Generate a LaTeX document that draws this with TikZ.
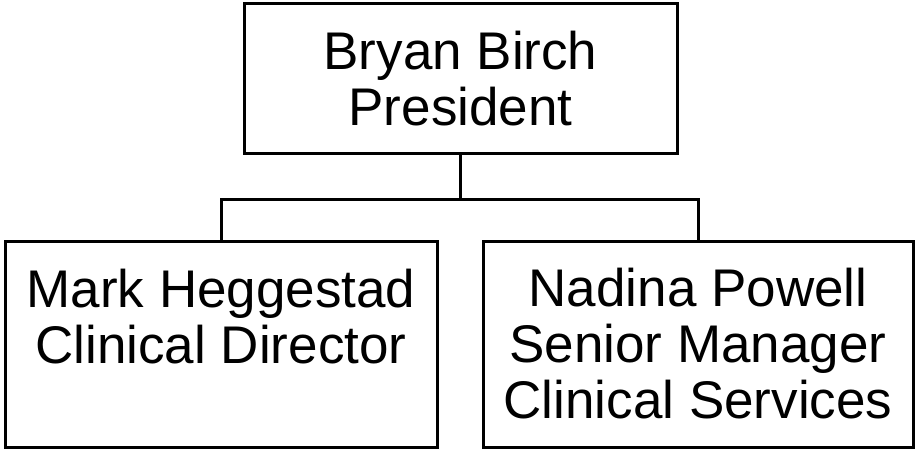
\documentclass[tikz,border=0pt]{standalone}
\usepackage{fontspec}
\setmainfont{Liberation Sans}
\begin{document}
\begin{tikzpicture}[x=1pt,y=-1pt,line width=3pt,
  box/.style={rectangle, draw=black, inner sep=0pt, align=center, font=\fontsize{53}{56}\selectfont}]
\useasboundingbox (0,0) rectangle (917,452);
\node [box, minimum width=433pt, minimum height=149pt] (birch) at (460.5,78.5) {Bryan Birch\\President};
\node [box, minimum width=432pt, minimum height=206pt] (heggestad) at (221,344) {Mark Heggestad\\Clinical Director\\\mbox{}};
\node [box, minimum width=430pt, minimum height=206pt] (powell) at (698,344) {Nadina Powell\\Senior Manager\\Clinical Services};
\draw (birch.south) -- ++(0,45) coordinate (bar);
\draw (bar) -| (heggestad.north);
\draw (bar) -| (powell.north);
\end{tikzpicture}
\end{document}
